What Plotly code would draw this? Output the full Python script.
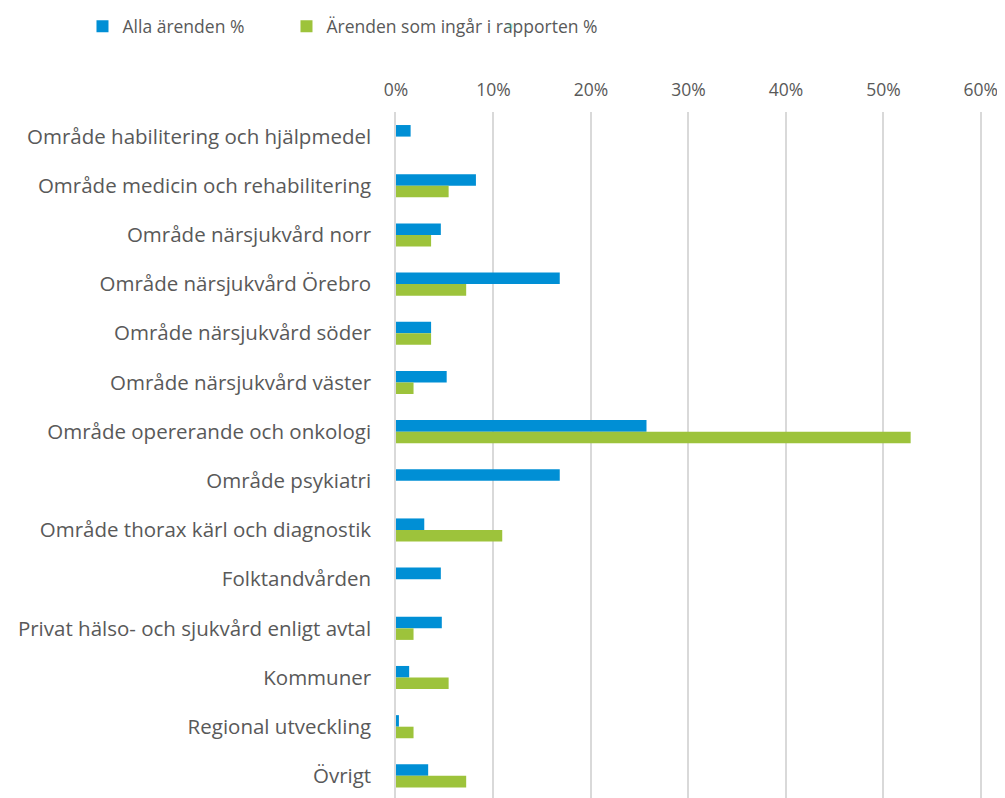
import plotly.graph_objects as go

categories = [
    "Område habilitering och hjälpmedel",
    "Område medicin och rehabilitering",
    "Område närsjukvård norr",
    "Område närsjukvård Örebro",
    "Område närsjukvård söder",
    "Område närsjukvård väster",
    "Område opererande och onkologi",
    "Område psykiatri",
    "Område thorax kärl och diagnostik",
    "Folktandvården",
    "Privat hälso- och sjukvård enligt avtal",
    "Kommuner",
    "Regional utveckling",
    "Övrigt",
]
alla = [1.5, 8.2, 4.6, 16.8, 3.6, 5.2, 25.7, 16.8, 2.9, 4.6, 4.7, 1.35, 0.3, 3.3]
rapport = [0, 5.4, 3.6, 7.2, 3.6, 1.8, 52.8, 0, 10.9, 0, 1.8, 5.4, 1.8, 7.2]
series_names = ["Alla ärenden %", "Ärenden som ingår i rapporten %"]
colors = ["#008FD5", "#9DC33B"]
x_ticks = [0, 10, 20, 30, 40, 50, 60]
x_ticktext = ["0%", "10%", "20%", "30%", "40%", "50%", "60%"]

font = "Open Sans"
txt = "#595959"

fig = go.Figure()
for name, vals, col in zip(series_names, [alla, rapport], colors):
    fig.add_trace(go.Bar(
        y=categories, x=vals, orientation="h", name=name,
        marker=dict(color=col, line=dict(width=0)),
    ))
# invisible spacer legend entry so the last real entry is not clipped
fig.add_trace(go.Scatter(x=[None], y=[None], mode="markers", name=" ",
                         marker=dict(opacity=0), hoverinfo="skip"))

# the page body has an 8px margin, so the figure is offset by 8px
fig.update_layout(
    width=989, height=790,
    margin=dict(l=388, r=15, t=98, b=0),
    paper_bgcolor="white", plot_bgcolor="white",
    barmode="group", bargap=0.53, bargroupgap=0,
    font=dict(family=font, size=17, color=txt),
    legend=dict(orientation="h", x=-0.535, xanchor="left", y=1.125, yanchor="middle",
                font=dict(size=17.5, color=txt), traceorder="normal",
                itemwidth=30, entrywidth=159, entrywidthmode="pixels"),
    xaxis=dict(side="top", range=[0, 60.12], tickvals=x_ticks, ticktext=x_ticktext,
               showgrid=True, gridcolor="#D9D9D9", gridwidth=1.5,
               zeroline=False, showline=False, ticks="", automargin=False,
               ticklabeloverflow="allow",
               ticklabelstandoff=12, tickfont=dict(size=17.5, color=txt)),
    yaxis=dict(range=[13.45, -0.5], showgrid=False, zeroline=False,
               showline=True, linecolor="#D9D9D9", linewidth=1.5, automargin=False,
               ticks="", ticklabelstandoff=19, tickfont=dict(size=20.5, color=txt)),
)

fig.write_html("out.html")
